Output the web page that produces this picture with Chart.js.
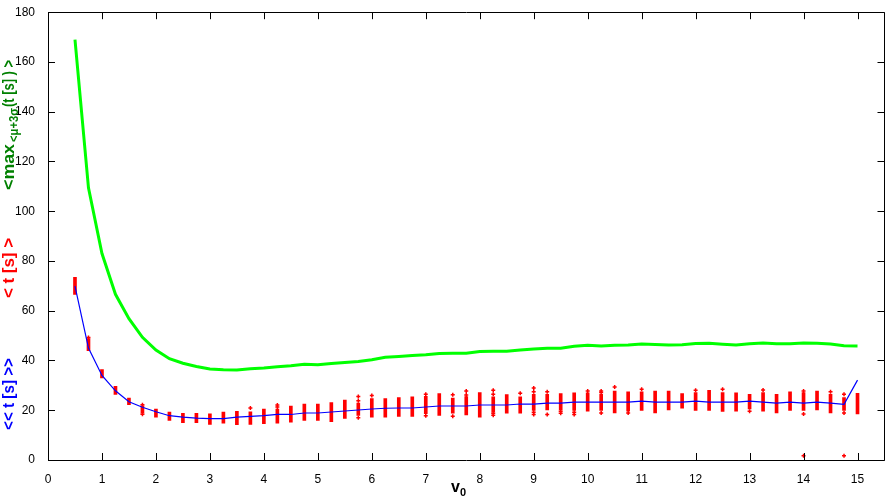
<!DOCTYPE html>
<html><head><meta charset="utf-8">
<script src="https://cdn.jsdelivr.net/npm/chart.js@4.4.0/dist/chart.umd.min.js"></script>
<style>html,body{margin:0;padding:0;background:#fff;}#wrap{width:890px;height:496px;}</style>
</head><body><div id="wrap"><canvas id="c" width="890" height="496"></canvas></div>
<script>
// v0 categories
const v0 = [0.5,0.75,1,1.25,1.5,1.75,2,2.25,2.5,2.75,3,3.25,3.5,3.75,4,4.25,4.5,4.75,5,5.25,5.5,5.75,6,6.25,6.5,6.75,7,7.25,7.5,7.75,8,8.25,8.5,8.75,9,9.25,9.5,9.75,10,10.25,10.5,10.75,11,11.25,11.5,11.75,12,12.25,12.5,12.75,13,13.25,13.5,13.75,14,14.25,14.5,14.75,15];
// green: <max<mu+3sigma(t [s])>
const maxT = [169,109.4,83,66.6,56.8,49.3,44.2,40.7,38.9,37.6,36.6,36.3,36.2,36.7,37.0,37.5,37.9,38.5,38.3,38.8,39.2,39.6,40.3,41.3,41.6,42.0,42.3,42.8,42.9,42.9,43.6,43.7,43.7,44.2,44.6,44.9,44.9,45.7,46.1,45.8,46.1,46.2,46.6,46.4,46.2,46.3,46.8,46.9,46.5,46.2,46.7,47.0,46.7,46.7,47.0,46.9,46.6,45.9,45.8];
// blue: << t [s] >>
const meanT = [69.9,45,34,27.8,23.4,21.2,19.4,17.8,17.2,16.8,16.6,16.6,17.2,17.5,17.8,18.3,18.3,18.9,18.9,19.3,19.7,20.1,20.5,20.8,20.9,20.9,21.3,21.7,21.7,21.7,22.1,22.1,22.1,22.5,22.5,22.9,22.9,23.3,23.3,23.3,23.3,23.3,23.7,23.3,23.3,23.3,23.7,23.3,23.3,23.3,23.7,23.3,22.9,23.3,22.9,23.3,22.9,22.4,32.1];
// red: < t [s] > dense range per v0
const tLow  = [66.6,43.9,33.0,26.4,22.2,18.8,17.2,15.9,15.0,15.0,14.3,14.8,14.2,14.3,14.6,14.8,15.2,15.9,15.9,15.4,16.7,17.9,17.2,17.2,17.5,17.5,18.6,17.9,18.8,18.1,17.2,19.2,18.8,18.8,19.9,20.1,20.1,19.9,19.6,19.9,18.9,19.6,19.9,18.9,20.1,20.8,19.9,19.9,19.5,19.6,20.5,19.6,18.9,19.9,19.9,20.1,18.9,19.9,18.5];
const tHigh = [73.4,48.8,36.3,29.6,24.9,21.8,20.5,19.3,18.8,18.8,18.6,19.3,19.6,19.4,20.5,20.5,21.7,22.5,22.5,23.1,24.1,22.9,24.7,24.7,25.1,25.4,25.6,26.7,24.9,25.5,27.1,25.4,26.3,25.4,26.4,26.4,26.7,27.0,27.0,26.4,27.75,27.4,27.4,27.75,27.75,26.7,27.1,28.0,27.1,27.0,26.4,27.1,26.4,27.4,27.1,27.75,26.4,25.1,26.8];
// red isolated runs
const outX = [0.75,1.75,1.75,3.75,4.25,4.25,5.75,5.75,5.75,6,7,7,7.5,7.5,7.75,7.75,8.25,8.25,8.25,8.25,8.75,9,9,9,9,9.25,9.25,9.5,9.5,9.75,9.75,10,10.25,10.25,10.25,10.5,10.75,11,12,12.5,13,13.25,14,14,14,14.5,14.75,14.75,14.75];
const outY = [49.2,22.2,18.4,20.9,21.3,22.1,25.5,23.8,17.0,25.9,26.4,17.8,26.2,17.6,27.75,26.1,28.0,26.4,18.8,18.0,26.8,28.9,27.4,19.2,18.3,27.4,18.3,19.6,18.8,19.2,18.3,27.75,27.75,27.1,18.9,29.3,18.9,28.4,28.0,28.4,19.6,28.1,27.75,18.5,1.7,27.4,26.4,18.9,1.7];
const xTicks = [0,1,2,3,4,5,6,7,8,9,10,11,12,13,14,15];

const FONT = "'Liberation Sans', Arial, sans-serif";

const framePlugin = {
  id: 'frame',
  afterDraw(chart) {
    const {ctx, chartArea: a, scales: {x, y}} = chart;
    ctx.save();
    ctx.strokeStyle = '#000';
    ctx.lineWidth = 1;
    ctx.beginPath();
    ctx.rect(Math.round(a.left) + 0.5, Math.round(a.top) + 0.5, Math.round(a.right - a.left) - 1, Math.round(a.bottom - a.top));
    x.ticks.forEach(t => {
      const px = Math.round(x.getPixelForValue(t.value)) + 0.5;
      ctx.moveTo(px, a.bottom); ctx.lineTo(px, a.bottom - 7);
      ctx.moveTo(px, a.top); ctx.lineTo(px, a.top + 7);
    });
    y.ticks.forEach(t => {
      const py = Math.round(y.getPixelForValue(t.value)) + 0.5;
      ctx.moveTo(a.left, py); ctx.lineTo(a.left + 7, py);
      ctx.moveTo(a.right, py); ctx.lineTo(a.right - 7, py);
    });
    ctx.stroke();

    // rotated multi-colour y title, each piece fitted between yStart (bottom) and yEnd (top)
    function seg(text, color, size, bx, yStart, yEnd) {
      ctx.save();
      ctx.font = 'bold ' + size + 'px ' + FONT;
      const w = ctx.measureText(text).width;
      ctx.translate(bx, yStart);
      ctx.rotate(-Math.PI / 2);
      ctx.scale((yStart - yEnd) / w, 1);
      ctx.fillStyle = color;
      ctx.textBaseline = 'alphabetic';
      ctx.textAlign = 'left';
      ctx.fillText(text, 0, 0);
      ctx.restore();
    }
    seg('<< t [s] >>', '#0000ff', 16, 14, 430, 358);
    seg('< t [s] >', '#ff0000', 16, 14, 298, 238);
    seg('<max', '#008000', 16, 14, 190, 144);
    seg('<\u03bc+3\u03c3', '#008000', 12, 18, 142, 108);
    seg('(t [s] ) >', '#008000', 16, 14, 107, 60);

    // x title v0
    ctx.fillStyle = '#000';
    ctx.textBaseline = 'alphabetic';
    ctx.textAlign = 'left';
    ctx.font = 'bold 16px ' + FONT;
    ctx.fillText('v', 451, 492);
    ctx.font = 'bold 11px ' + FONT;
    ctx.fillText('0', 460, 496);
    ctx.restore();
  }
};

new Chart(document.getElementById('c'), {
  type: 'line',
  data: {
    datasets: [
      { type: 'line', label: '<< t [s] >>', data: v0.map((x, i) => ({x, y: meanT[i]})),
        borderColor: '#0000ff', borderWidth: 1.2, pointRadius: 0, tension: 0, order: 0 },
      { type: 'line', label: 'max', data: v0.map((x, i) => ({x, y: maxT[i]})),
        borderColor: '#00ff00', borderWidth: 3, pointRadius: 0, tension: 0, order: 1 },
      { type: 'scatter', label: 'runs', data: outX.map((x, i) => ({x, y: outY[i]})),
        pointStyle: 'cross', pointRadius: 2, borderColor: '#ff0000', backgroundColor: '#ff0000', borderWidth: 1.5, showLine: false, order: 2 },
      { type: 'bar', label: '< t [s] >', data: v0.map((x, i) => ({x, y: [tLow[i], tHigh[i]]})),
        backgroundColor: '#ff0000', borderWidth: 0, barThickness: 3, order: 3 }
    ]
  },
  options: {
    responsive: false, animation: false, devicePixelRatio: 1,
    layout: { padding: { top: 4, right: 2, left: 0, bottom: 0 } },
    plugins: { legend: { display: false }, tooltip: { enabled: false } },
    scales: {
      x: {
        type: 'linear', min: 0, max: 15.5, offset: false,
        afterFit(s) { s.height = 36; },
        afterBuildTicks(s) { s.ticks = xTicks.map(v => ({value: v})); },
        grid: { display: false, offset: false }, border: { display: false },
        ticks: { stepSize: 1, padding: 4, color: '#000', autoSkip: false, maxRotation: 0,
                 font: { family: FONT, size: 12 } }
      },
      y: {
        min: 0, max: 180,
        afterFit(s) { s.width = 48; },
        grid: { display: false }, border: { display: false },
        ticks: { stepSize: 20, padding: 5, color: '#000', font: { family: FONT, size: 12 } }
      }
    }
  },
  plugins: [framePlugin]
});
</script></body></html>
